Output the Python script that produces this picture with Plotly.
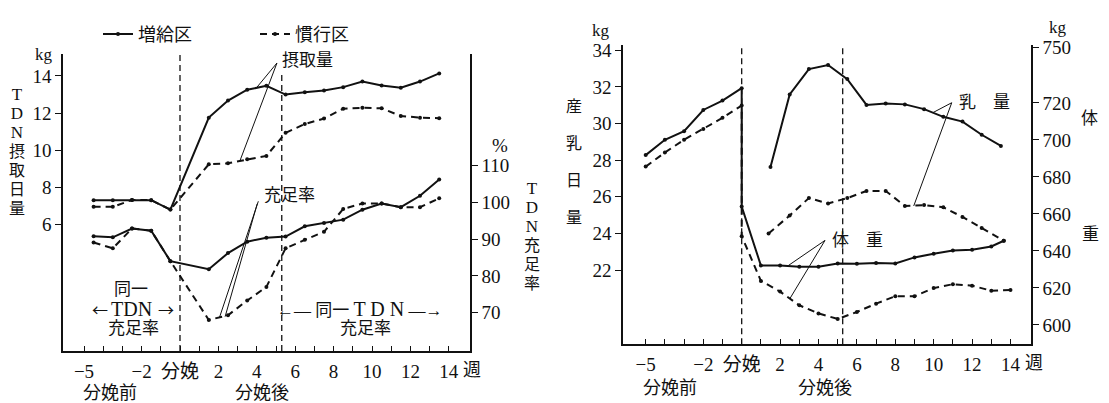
import plotly.graph_objects as go

W, H = 1109, 403

# ---------------- data: left panel (TDN intake kg / TDN sufficiency %) ----------------
weeks_half = [-4.5, -3.5, -2.5, -1.5, -0.5, 1.5, 2.5, 3.5, 4.5, 5.5, 6.5, 7.5, 8.5, 9.5, 10.5, 11.5, 12.5, 13.5]
intake_zoukyu = [7.32, 7.32, 7.33, 7.32, 6.81, 11.76, 12.68, 13.26, 13.47, 13.0, 13.13, 13.22, 13.4, 13.7, 13.49, 13.37, 13.7, 14.14]
intake_kanko = [6.96, 6.96, 7.33, 7.32, 6.81, 9.25, 9.3, 9.52, 9.7, 10.94, 11.42, 11.71, 12.24, 12.29, 12.26, 11.85, 11.76, 11.73]
rate_zoukyu = [90.8, 90.5, 92.9, 92.3, 84.0, 81.8, 86.2, 89.3, 90.4, 90.7, 93.5, 94.4, 95.3, 98.0, 99.7, 98.7, 101.8, 106.2]
rate_kanko = [89.1, 87.5, 92.9, 92.3, 84.0, 68.0, 69.3, 73.3, 77.0, 87.5, 89.8, 92.0, 98.2, 99.7, 99.7, 98.7, 98.7, 101.1]

# ---------------- data: right panel (milk kg / body weight kg) ----------------
bw_weeks_zoukyu = [-5, -4, -3, -2, -1, 0, 0, 1, 2, 3, 4, 5, 6, 7, 8, 9, 10, 11, 12, 13, 13.65]
bw_zoukyu = [691.8, 700.1, 704.7, 716.2, 721.3, 728.0, 664.0, 632.1, 632.1, 631.4, 631.4, 633.2, 633.0, 633.5, 633.2, 636.5, 638.5, 640.2, 640.6, 642.4, 645.5]
bw_weeks_kanko = [-5, -4, -3, -2, -1, 0, 0, 1, 2, 3, 4, 5, 6, 7, 8, 9, 10, 11, 12, 13, 14]
bw_kanko = [685.6, 693.2, 700.1, 705.9, 712.0, 718.6, 648.0, 623.8, 618.0, 610.6, 606.2, 603.2, 607.0, 611.5, 615.5, 615.5, 619.9, 622.0, 621.2, 618.5, 618.9]
milk_weeks_zoukyu = [1.5, 2.5, 3.5, 4.5, 5.5, 6.5, 7.5, 8.5, 9.5, 10.5, 11.5, 12.5, 13.5]
milk_zoukyu = [27.63, 31.59, 32.98, 33.2, 32.43, 31.02, 31.1, 31.05, 30.79, 30.37, 30.11, 29.39, 28.78]
milk_weeks_kanko = [1.4, 2.5, 3.5, 4.5, 5.5, 6.5, 7.5, 8.5, 9.5, 10.5, 11.5, 12.5, 13.65]
milk_kanko = [24.0, 24.98, 25.93, 25.64, 25.93, 26.32, 26.32, 25.5, 25.55, 25.43, 24.9, 24.3, 23.6]

x_tickvals = list(range(-5, 15))
x_ticktext = ["−5", "", "", "−2", "", "分娩", "", "2", "", "4", "", "6", "", "8", "", "10", "", "12", "", "14"]
intake_ticks = [6, 8, 10, 12, 14]
rate_ticks = [70, 80, 90, 100, 110]
milk_ticks = [22, 24, 26, 28, 30, 32, 34]
bw_ticks = [600, 620, 640, 660, 680, 700, 720, 750]

FONT = "Liberation Serif, Noto Sans CJK JP, serif"
CJK = "Noto Sans CJK JP, sans-serif"
BLACK = "#111111"
DASH = "7px,5px"


def px(x):
    return x / W


def py(y):
    return 1 - y / H


fig = go.Figure()


def add_line(x, y, xa, ya, dashed, name=None, legend=False):
    fig.add_trace(go.Scatter(
        x=x, y=y, xaxis=xa, yaxis=ya, mode="lines+markers",
        line=dict(color=BLACK, width=2, dash=DASH if dashed else "solid"),
        marker=dict(color=BLACK, size=4),
        name=name, showlegend=legend, hoverinfo="skip"))


add_line(weeks_half, intake_zoukyu, "x", "y", False, "増給区", True)
add_line(weeks_half, intake_kanko, "x", "y", True, "慣行区", True)
add_line(weeks_half, rate_zoukyu, "x", "y2", False)
add_line(weeks_half, rate_kanko, "x", "y2", True)
add_line(bw_weeks_zoukyu, bw_zoukyu, "x2", "y4", False)
add_line(bw_weeks_kanko, bw_kanko, "x2", "y4", True)
add_line(milk_weeks_zoukyu, milk_zoukyu, "x2", "y3", False)
add_line(milk_weeks_kanko, milk_kanko, "x2", "y3", True)

axis_common = dict(showgrid=False, zeroline=False, showline=True, linecolor=BLACK, linewidth=1.5,
                   tickcolor=BLACK, tickwidth=1.3, tickfont=dict(family=FONT, size=19, color=BLACK))

xcommon = dict(axis_common, tickmode="array", tickvals=x_tickvals, ticktext=x_ticktext,
               ticks="inside", ticklen=5, ticklabelstandoff=2)

fig.update_layout(
    width=W, height=H, margin=dict(l=0, r=0, t=0, b=0),
    paper_bgcolor="white", plot_bgcolor="rgba(0,0,0,0)",
    font=dict(family=FONT, size=17, color=BLACK),
    xaxis=dict(xcommon, domain=[px(63), px(470)], range=[-6.094, 15.104], anchor="y"),
    yaxis=dict(axis_common, domain=[py(350), py(47)], range=[-0.80, 15.18],
               tickmode="array", tickvals=intake_ticks, ticks="outside", ticklen=6, anchor="x"),
    yaxis2=dict(axis_common, overlaying="y", side="right", range=[59.55, 140.35], anchor="x",
                tickmode="array", tickvals=rate_ticks, ticks="outside", ticklen=6),
    xaxis2=dict(xcommon, domain=[px(623), px(1031)], range=[-6.182, 15.068], anchor="y3"),
    yaxis3=dict(axis_common, domain=[py(343), py(38)], range=[17.95, 34.28], anchor="x2",
                tickmode="array", tickvals=milk_ticks, ticks="outside", ticklen=6),
    yaxis4=dict(axis_common, overlaying="y3", side="right", range=[589.57, 751.2], anchor="x2",
                tickmode="array", tickvals=bw_ticks, ticks="outside", ticklen=6),
    legend=dict(orientation="h", x=px(98), y=py(8), xanchor="left", yanchor="top",
                font=dict(family=FONT, size=18, color=BLACK), entrywidth=112,
                bgcolor="rgba(0,0,0,0)", itemwidth=30),
)

shapes = []
# reference dashed vertical lines (calving, week ~5.3)
ref_dash = dict(color=BLACK, width=1.3, dash="6px,4px")
shapes.append(dict(type="line", xref="x", yref="y domain", x0=0, x1=0, y0=0, y1=1, line=ref_dash))
shapes.append(dict(type="line", xref="x", yref="y domain", x0=5.3, x1=5.3, y0=0, y1=0.935, line=ref_dash))
shapes.append(dict(type="line", xref="x2", yref="y3 domain", x0=0, x1=0, y0=0, y1=0.995, line=ref_dash))
shapes.append(dict(type="line", xref="x2", yref="y3 domain", x0=5.26, x1=5.26, y0=0, y1=0.99, line=ref_dash))

thin = dict(color=BLACK, width=1)


def leader(xr, yr, x0, y0, x1, y1):
    shapes.append(dict(type="line", xref=xr, yref=yr, x0=x0, y0=y0, x1=x1, y1=y1, line=thin))


# 摂取量 pointers
leader("x", "y", 5.05, 14.70, 4.01, 13.40)
leader("x", "y", 5.05, 14.70, 3.13, 9.46)
# 充足率 pointers
leader("x", "y2", 4.08, 100.3, 2.05, 68.6)
leader("x", "y2", 4.02, 99.6, 2.35, 68.9)
# 乳量 pointers
leader("x2", "y3", 10.94, 31.14, 9.96, 30.6)
leader("x2", "y3", 10.94, 31.14, 8.96, 25.5)
# 体重 pointers
leader("x2", "y4", 4.34, 645.7, 2.43, 632.1)
leader("x2", "y4", 4.34, 645.7, 2.52, 614.4)

fig.update_layout(shapes=shapes)

ann = []


def ptext(x, y, s, size=17, family=FONT, yanchor="middle"):
    ann.append(dict(x=px(x), y=py(y), xref="paper", yref="paper", text=s, showarrow=False,
                    xanchor="center", yanchor=yanchor, font=dict(family=family, size=size, color=BLACK)))


def stacked(xc, ytop, line_size, chars, char_px=16, latin_px=17):
    # one text block, one character per line; line pitch = 1.3 * line_size
    parts = []
    for c in chars:
        sz = latin_px if c.isascii() else char_px
        parts.append(f"<span style='font-size:{sz}px'>{c}</span>")
    ptext(xc, ytop, "<br>".join(parts), line_size, FONT, "top")


# left panel labels
ptext(44, 47, "kg", 17)
stacked(17, 77, 14.6, ["T", "D", "N", "摂", "取", "日", "量"])
ptext(500, 140, "%", 19)
stacked(532, 172, 14.6, ["T", "D", "N", "充", "足", "率"])
ptext(472, 369, "週", 18)
ptext(110, 393, "分娩前", 18)
ptext(262, 393, "分娩後", 18)
ptext(307, 54, "摂取量", 17)
ptext(289, 191, "充足率", 17)
ptext(131, 287, "同一", 17)
ptext(100, 307, "←", 16, CJK)
ptext(131, 307, "TDN", 20)
ptext(166, 307, "→", 16, CJK)
ptext(133, 327, "充足率", 17)
ptext(360, 307, "←— 同一 <span style='font-family:Liberation Serif;font-size:20px'>T D N</span> —→", 17)
ptext(365, 327, "充足率", 17)

# right panel labels
ptext(601, 23, "kg", 17)
for i, c in enumerate(["産", "乳", "日", "量"]):
    ptext(574, 100 + 38 * i, c, 16)
ptext(1058, 20, "kg", 17)
ptext(1089, 113, "体", 17)
ptext(1090, 231, "重", 17)
ptext(1034, 362, "週", 18)
ptext(670, 388, "分娩前", 18)
ptext(825, 388, "分娩後", 18)
ptext(984, 96, "乳　量", 17)
ptext(858, 237, "体　重", 17)

fig.update_layout(annotations=ann)

fig.write_html("out.html")
